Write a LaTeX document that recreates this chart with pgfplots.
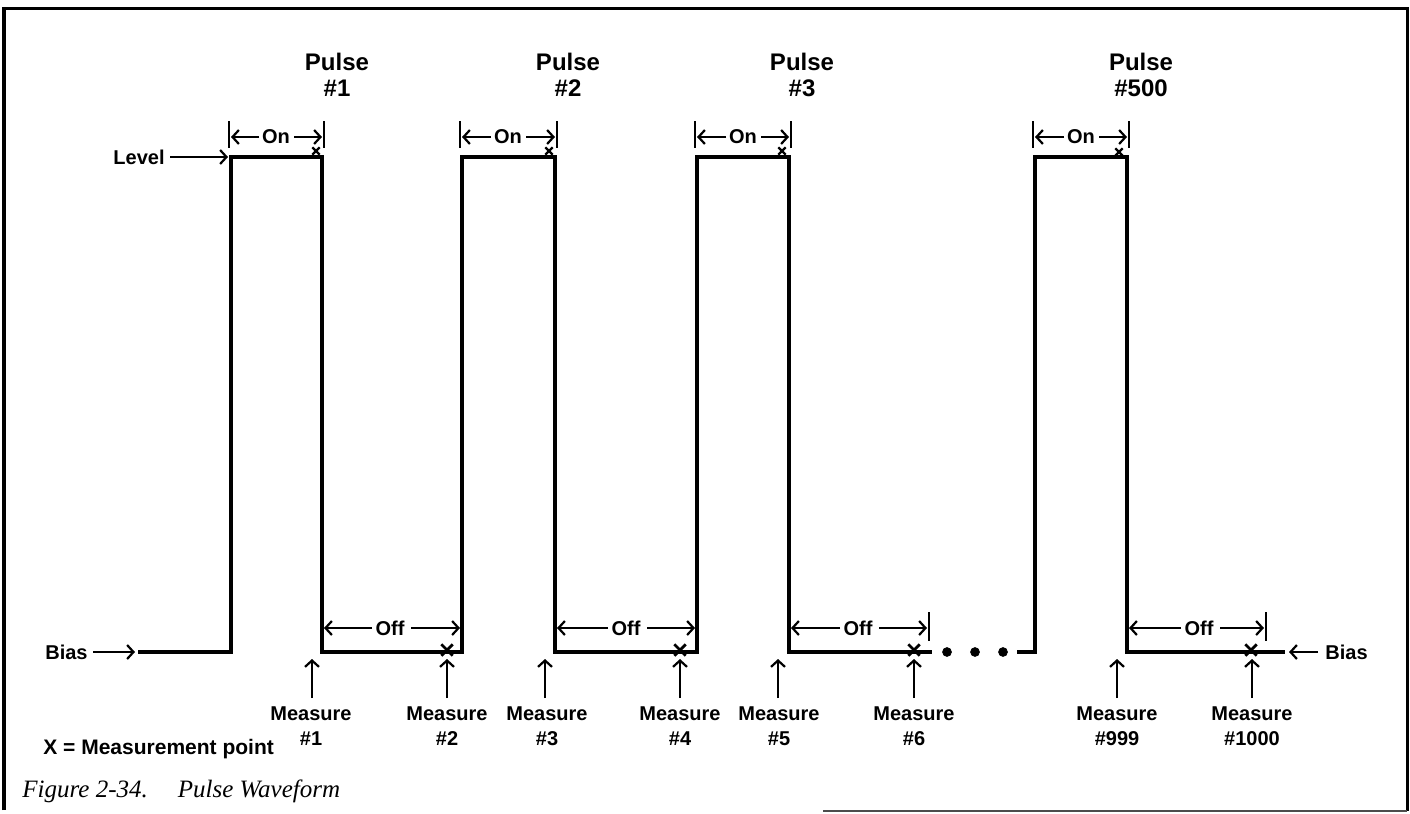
\documentclass[border=0pt]{standalone}
\usepackage{pgfplots}
\pgfplotsset{compat=1.18}
\usetikzlibrary{arrows.meta}
\usepackage{fontspec}
\setmainfont{Liberation Sans}
\newfontfamily\capfont{Liberation Serif}
\tikzset{
  dim/.style={line width=1.1pt, -{Straight Barb[length=3.2pt,width=7pt,line width=1.1pt]}},
  bar/.style={line width=1.1pt},
  lab/.style={font=\bfseries\fontsize{10}{12.5}\selectfont, inner sep=0pt, align=center},
  plab/.style={font=\bfseries\fontsize{12}{13}\selectfont, inner sep=0pt, align=center},
}
\begin{document}
\begin{tikzpicture}
\begin{axis}[
  width=705pt, height=406.5pt, scale only axis,
  xmin=0, xmax=1410, ymin=0, ymax=813, y dir=reverse,
  hide axis, clip=false,
]
\path (axis cs:0,0) rectangle (axis cs:1410,813);
% frame
\draw[line width=1.5pt] (axis cs:4,810) -- (axis cs:4,9) -- (axis cs:1407,9) -- (axis cs:1407,811);
\draw[line width=0.8pt, black!70] (axis cs:823,811) -- (axis cs:1407,811);

% waveform
\addplot[line width=2.4pt, line join=miter, mark=none] coordinates {
(138,652) (231,652) (231,157) (322,157) (322,652) (462,652) (462,157) (555,157) (555,652)
(697,652) (697,157) (789,157) (789,652) (932,652)};
\addplot[line width=2.4pt, line join=miter, mark=none] coordinates {
(1017,652) (1035,652) (1035,157) (1127,157) (1127,652) (1285,652)};
% continuation dots
\addplot[only marks, mark=*, mark size=2.2pt, black] coordinates {(947,652) (975,652) (1003,652)};
% measurement points
\addplot[only marks, mark=x, mark size=2.6pt, line width=1.1pt, black] coordinates {(316,151) (549,151) (782,151) (1119,152)};
\addplot[only marks, mark=x, mark size=4pt, line width=1.4pt, black] coordinates {(447,650) (680,650) (914,650) (1251,650)};

% Pulse labels
\node[plab] at (axis cs:337,75) {Pulse\\\#1};
\node[plab] at (axis cs:568,75) {Pulse\\\#2};
\node[plab] at (axis cs:802,75) {Pulse\\\#3};
\node[plab] at (axis cs:1141,75) {Pulse\\\#500};

% On brackets
\draw[bar] (axis cs:229,121) -- (axis cs:229,148); \draw[bar] (axis cs:324,121) -- (axis cs:324,148);
\node[lab] at (axis cs:276,137) {On};
\draw[dim] (axis cs:259,137) -- (axis cs:231,137); \draw[dim] (axis cs:294,137) -- (axis cs:322,137);
\draw[bar] (axis cs:460,121) -- (axis cs:460,148); \draw[bar] (axis cs:557,121) -- (axis cs:557,148);
\node[lab] at (axis cs:508,137) {On};
\draw[dim] (axis cs:491,137) -- (axis cs:462,137); \draw[dim] (axis cs:526,137) -- (axis cs:555,137);
\draw[bar] (axis cs:695,121) -- (axis cs:695,148); \draw[bar] (axis cs:791,121) -- (axis cs:791,148);
\node[lab] at (axis cs:743,137) {On};
\draw[dim] (axis cs:726,137) -- (axis cs:697,137); \draw[dim] (axis cs:761,137) -- (axis cs:789,137);
\draw[bar] (axis cs:1033,121) -- (axis cs:1033,148); \draw[bar] (axis cs:1129,121) -- (axis cs:1129,148);
\node[lab] at (axis cs:1081,137) {On};
\draw[dim] (axis cs:1064,137) -- (axis cs:1035,137); \draw[dim] (axis cs:1099,137) -- (axis cs:1127,137);

% Off dimensions
\node[lab] at (axis cs:390,628) {Off};
\draw[dim] (axis cs:372,628) -- (axis cs:324,628); \draw[dim] (axis cs:411,628) -- (axis cs:460,628);
\node[lab] at (axis cs:626,628) {Off};
\draw[dim] (axis cs:608,628) -- (axis cs:557,628); \draw[dim] (axis cs:647,628) -- (axis cs:695,628);
\node[lab] at (axis cs:858,628) {Off};
\draw[dim] (axis cs:840,628) -- (axis cs:791,628); \draw[dim] (axis cs:879,628) -- (axis cs:927,628);
\draw[bar] (axis cs:929,612) -- (axis cs:929,641);
\node[lab] at (axis cs:1199,628) {Off};
\draw[dim] (axis cs:1181,628) -- (axis cs:1129,628); \draw[dim] (axis cs:1220,628) -- (axis cs:1264,628);
\draw[bar] (axis cs:1266,612) -- (axis cs:1266,641);

% Level and Bias
\node[lab, anchor=east] at (axis cs:165,157) {Level};
\draw[dim] (axis cs:170,157) -- (axis cs:228,157);
\node[lab, anchor=east] at (axis cs:88,652) {Bias};
\draw[dim] (axis cs:93,652) -- (axis cs:135,652);
\draw[dim] (axis cs:1318,652) -- (axis cs:1289,652);
\node[lab, anchor=west] at (axis cs:1325,652) {Bias};

% Measure arrows
\draw[dim] (axis cs:312,698) -- (axis cs:312,659);
\draw[dim] (axis cs:447,698) -- (axis cs:447,659);
\draw[dim] (axis cs:545,698) -- (axis cs:545,659);
\draw[dim] (axis cs:680,698) -- (axis cs:680,659);
\draw[dim] (axis cs:778,698) -- (axis cs:778,659);
\draw[dim] (axis cs:914,698) -- (axis cs:914,659);
\draw[dim] (axis cs:1117,698) -- (axis cs:1117,659);
\draw[dim] (axis cs:1252,698) -- (axis cs:1252,659);

% Measure labels
\node[lab] at (axis cs:311,726) {Measure\\\#1};
\node[lab] at (axis cs:447,726) {Measure\\\#2};
\node[lab] at (axis cs:547,726) {Measure\\\#3};
\node[lab] at (axis cs:680,726) {Measure\\\#4};
\node[lab] at (axis cs:779,726) {Measure\\\#5};
\node[lab] at (axis cs:914,726) {Measure\\\#6};
\node[lab] at (axis cs:1117,726) {Measure\\\#999};
\node[lab] at (axis cs:1252,726) {Measure\\\#1000};

% legend note and caption
\node[anchor=west, inner sep=0pt, font=\bfseries\fontsize{10.5}{13}\selectfont] at (axis cs:43,749) {X = Measurement point};
\node[anchor=west, inner sep=0pt, font=\capfont\itshape\fontsize{12.5}{14}\selectfont] at (axis cs:22,791) {Figure 2-34.\hspace{1.2em}Pulse Waveform};
\end{axis}
\end{tikzpicture}
\end{document}
